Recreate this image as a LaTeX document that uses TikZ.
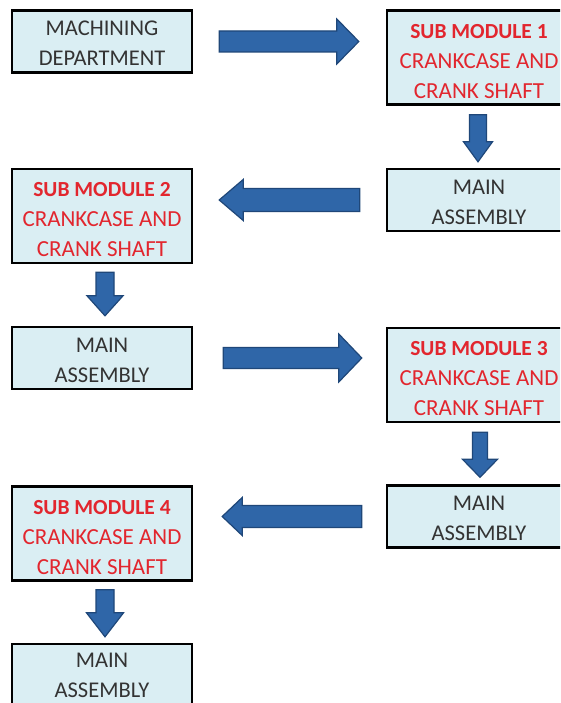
\documentclass[tikz,border=0pt]{standalone}
\usepackage{fontspec}
\setmainfont{Carlito}
\usetikzlibrary{calc}

\definecolor{boxfill}{HTML}{DAEEF3}
\definecolor{arrowfill}{HTML}{2F66A8}
\definecolor{arrowline}{HTML}{1F4779}
\definecolor{subred}{HTML}{E2262E}
\definecolor{darktext}{HTML}{333333}

% block arrow from #1 to #2: shaft half-width #3, head half-width #4, head length #5
\newcommand\blockarrow[5]{%
  \coordinate (ba-base) at ($(#2)!#5!(#1)$);
  \draw[blockarrowstyle]
    ($(#1)!#3!90:(#2)$) -- ($(ba-base)!#3!-90:(#1)$) -- ($(ba-base)!#4!-90:(#1)$)
    -- (#2) -- ($(ba-base)!#4!90:(#1)$) -- ($(ba-base)!#3!90:(#1)$)
    -- ($(#1)!#3!-90:(#2)$) -- cycle;
}
% text of the sub-module boxes
\newcommand\submodule[1]{\rule{0pt}{22pt}{\fontsize{21.5}{30}\selectfont\bfseries SUB MODULE #1}\\CRANKCASE AND\\CRANK SHAFT}
\newcommand\mainassembly{\rule{0pt}{19pt}MAIN\\ASSEMBLY}

\tikzset{
  flowbox/.style={draw=black, line width=2.4pt, fill=boxfill,
    minimum width=180pt, inner sep=0pt, align=center,
    font=\fontsize{22.5}{30}\selectfont, text=darktext},
  twoline/.style={flowbox, minimum height=62pt},
  threeline/.style={flowbox, minimum height=94pt, text=subred,
    font=\fontsize{23}{30}\selectfont},
  rightcol/.style={minimum width=184pt},
  blockarrowstyle/.style={fill=arrowfill, draw=arrowline, line width=1.2pt, line join=miter},
}

\begin{document}
\begin{tikzpicture}[x=1pt, y=-1pt]
  \useasboundingbox (0,0) rectangle (560,703);
  \clip (0,0) rectangle (560,703);
  \fill[white] (0,0) rectangle (560,703);

  % boxes
  \node[twoline]            (md) at (102,41.5)  {\rule{0pt}{19pt}MACHINING\\DEPARTMENT};
  \node[threeline,rightcol] (s1) at (479,57.5)  {\submodule{1}};
  \node[twoline,rightcol]   (a1) at (479,200)   {\mainassembly};
  \node[threeline]          (s2) at (102,216)   {\submodule{2}};
  \node[twoline]            (a2) at (102,358)   {\mainassembly};
  \node[threeline,rightcol] (s3) at (479,375)   {\submodule{3}};
  \node[twoline,rightcol]   (a3) at (479,516.5) {\mainassembly};
  \node[threeline]          (s4) at (102,533.5) {\submodule{4}};
  \node[twoline]            (a4) at (102,675)   {MAIN\\ASSEMBLY};

  % arrow end points
  \coordinate (h1s) at ($(md.east)+(26,0)$);
  \coordinate (h1e) at ($(md.east -| s1.west)+(-27,0)$);
  \coordinate (h2s) at ($(a1.west)+(-26,0)$);
  \coordinate (h2e) at ($(a1.west -| s2.east)+(26,0)$);
  \coordinate (h3s) at ($(a2.east)+(30,0)$);
  \coordinate (h3e) at ($(a2.east -| s3.west)+(-24,0)$);
  \coordinate (h4s) at ($(a3.west)+(-24,0)$);
  \coordinate (h4e) at ($(a3.west -| s4.east)+(29,0)$);
  \coordinate (v1s) at ($(s1.south)+(-1,9)$);
  \coordinate (v1e) at ($(a1.north)+(-1,-6)$);
  \coordinate (v2s) at ($(s2.south)+(3,8)$);
  \coordinate (v2e) at ($(a2.north)+(3,-10)$);
  \coordinate (v3s) at ($(s3.south)+(1,9)$);
  \coordinate (v3e) at ($(a3.north)+(1,-7)$);
  \coordinate (v4s) at ($(s4.south)+(3,8)$);
  \coordinate (v4e) at ($(a4.north)+(3,-6)$);

  % connectors
  \blockarrow{h1s}{h1e}{10.5pt}{22.5pt}{22pt}
  \blockarrow{h2s}{h2e}{11.5pt}{20.5pt}{24pt}
  \blockarrow{h3s}{h3e}{10.5pt}{24pt}{23pt}
  \blockarrow{h4s}{h4e}{11pt}{19pt}{20pt}
  \blockarrow{v1s}{v1e}{8.5pt}{14.5pt}{20pt}
  \blockarrow{v2s}{v2e}{9pt}{18pt}{20pt}
  \blockarrow{v3s}{v3e}{7.5pt}{17.5pt}{18pt}
  \blockarrow{v4s}{v4e}{9pt}{18.5pt}{24pt}
\end{tikzpicture}
\end{document}
